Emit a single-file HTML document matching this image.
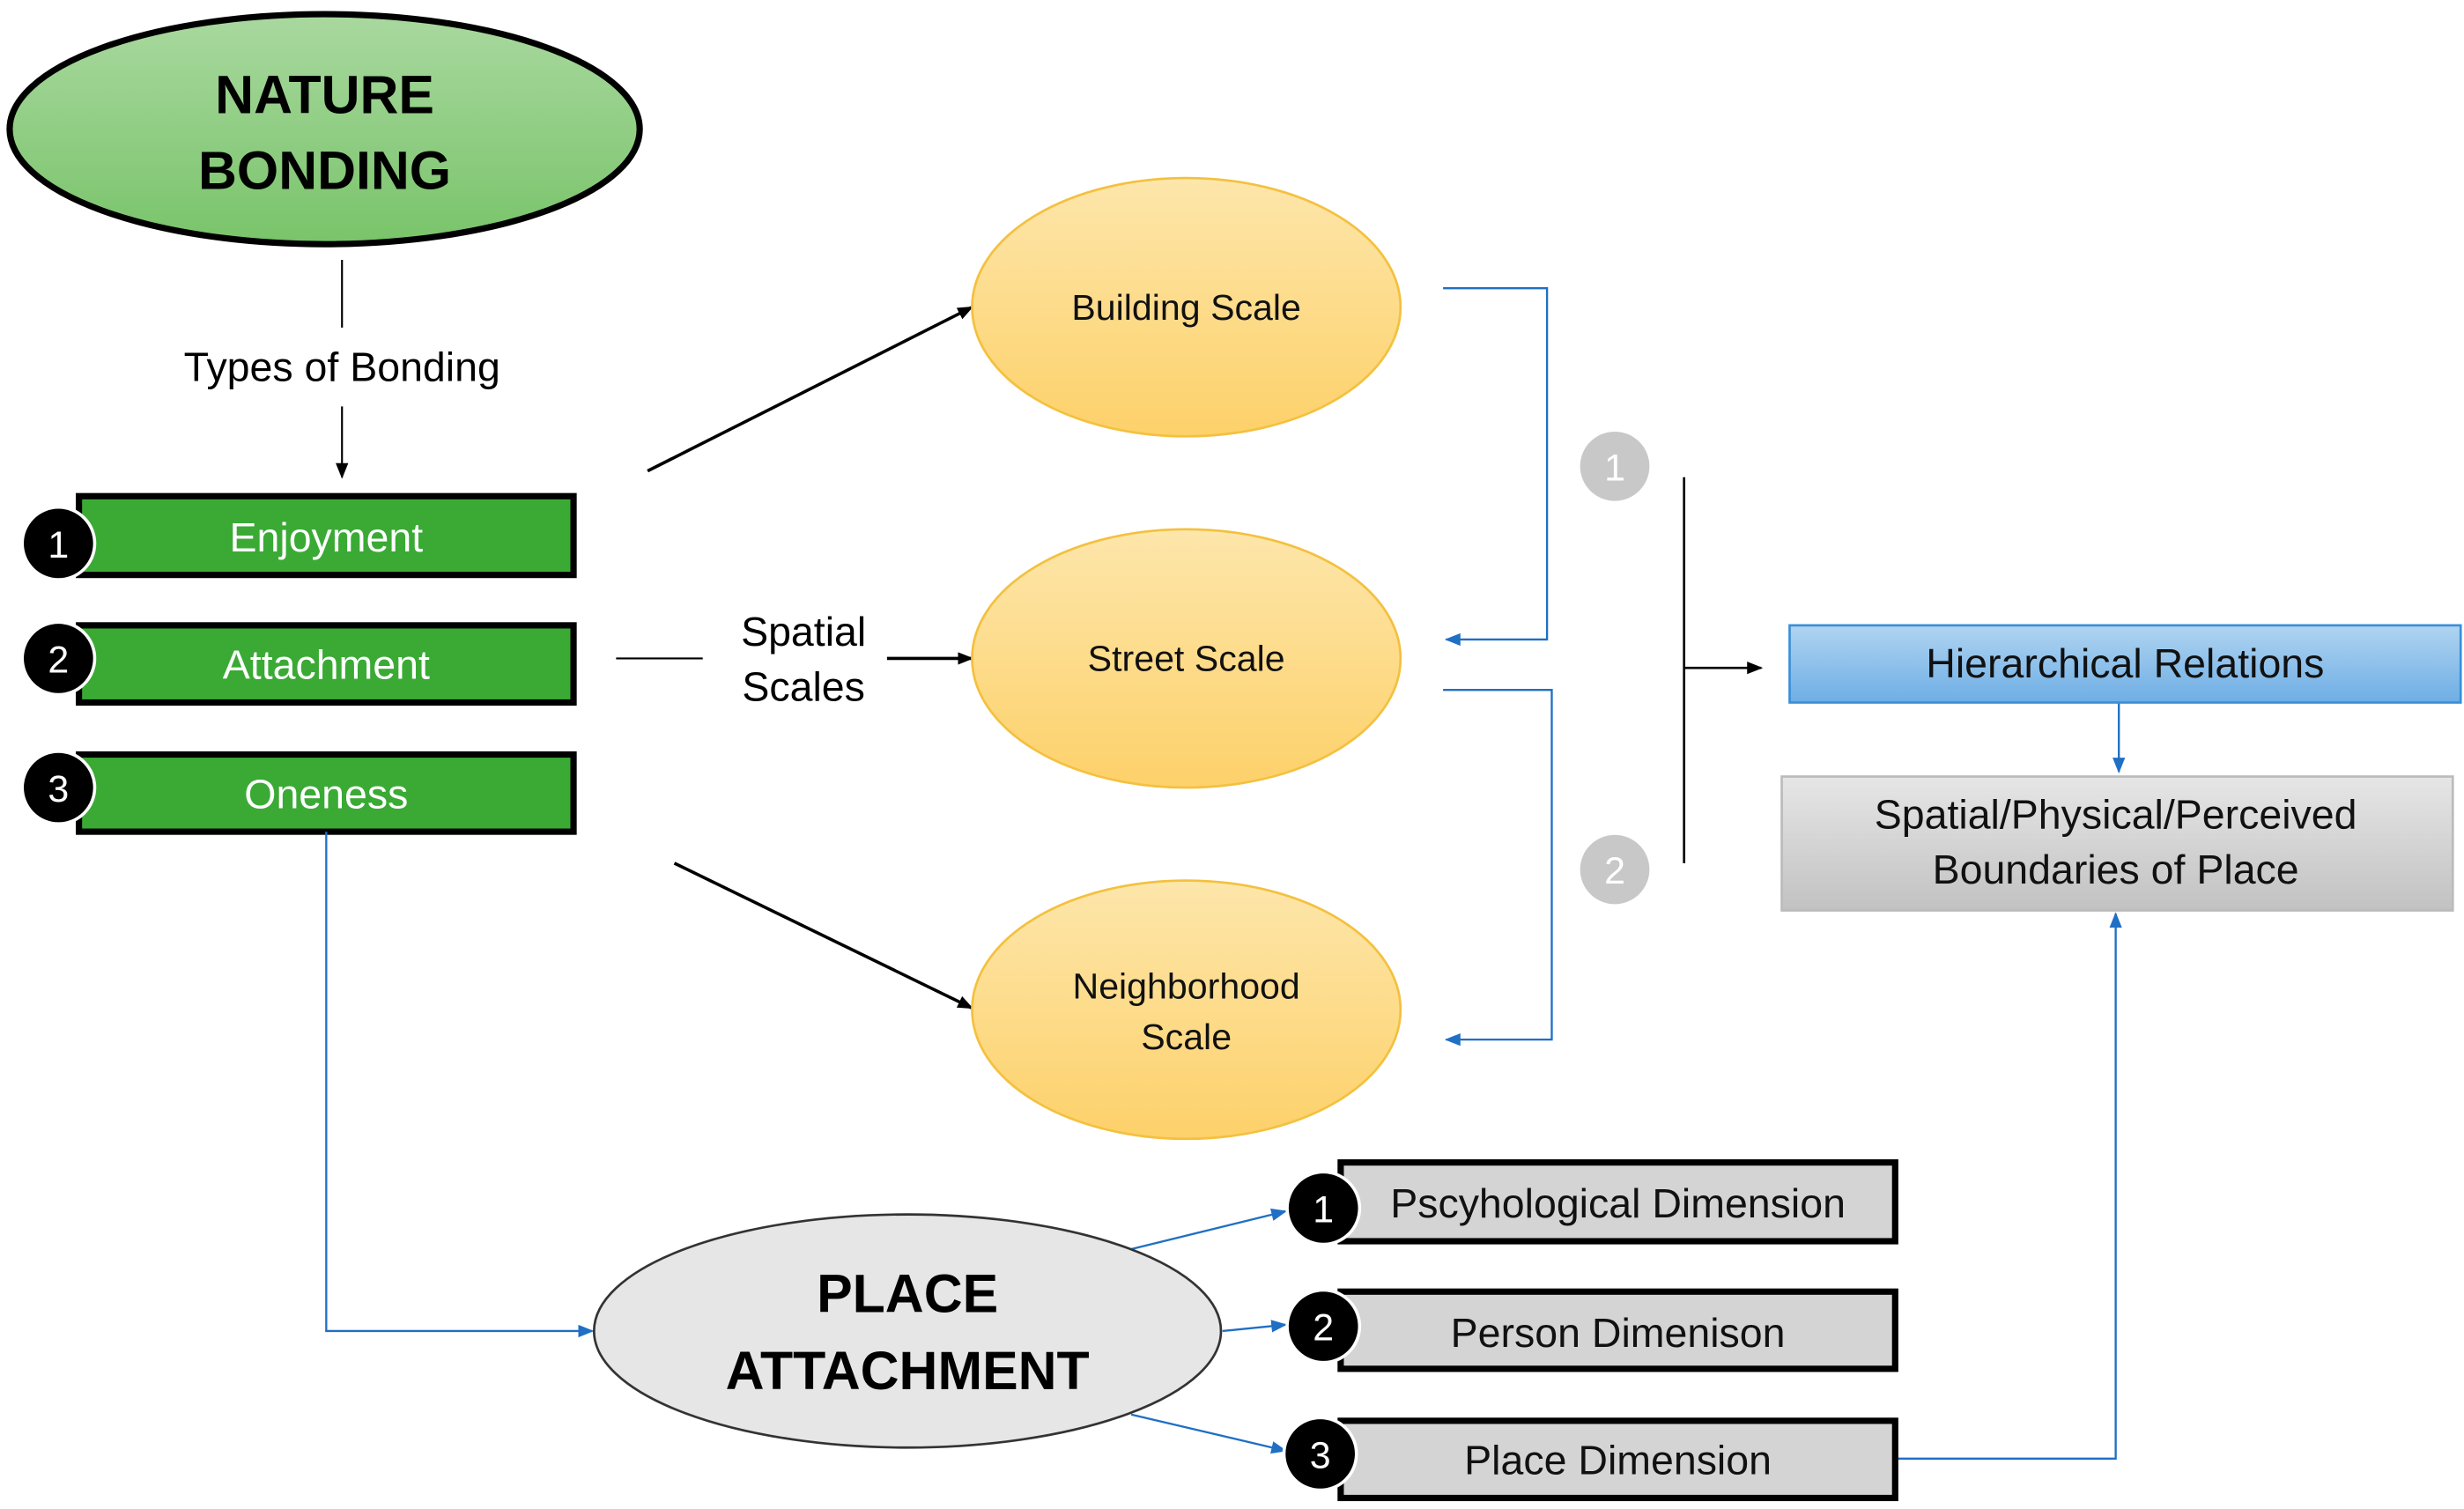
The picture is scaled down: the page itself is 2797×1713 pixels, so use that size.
<!DOCTYPE html>
<html><head><meta charset="utf-8"><style>
html,body{margin:0;padding:0;background:#fff;}
svg{display:block;}
text{font-family:"Liberation Sans",sans-serif;}
</style></head><body>
<svg width="2797" height="1713" viewBox="0 0 1564 958" xmlns="http://www.w3.org/2000/svg">
<defs>
<linearGradient id="gG" x1="0" y1="0" x2="0" y2="1"><stop offset="0" stop-color="#a9d89f"/><stop offset="1" stop-color="#79c46a"/></linearGradient>
<linearGradient id="gO" x1="0" y1="0" x2="0" y2="1"><stop offset="0" stop-color="#fde6ab"/><stop offset="1" stop-color="#fdd16a"/></linearGradient>
<linearGradient id="gB" x1="0" y1="0" x2="0" y2="1"><stop offset="0" stop-color="#b0d4f1"/><stop offset="1" stop-color="#6eaee5"/></linearGradient>
<linearGradient id="gS" x1="0" y1="0" x2="0" y2="1"><stop offset="0" stop-color="#e6e6e6"/><stop offset="1" stop-color="#c2c2c2"/></linearGradient>
<marker id="ak" markerWidth="10" markerHeight="10" refX="9" refY="5" orient="auto" markerUnits="userSpaceOnUse"><path d="M0,1 L10,5 L0,9 z" fill="#000"/></marker>
<marker id="ab" markerWidth="10" markerHeight="10" refX="9" refY="5" orient="auto" markerUnits="userSpaceOnUse"><path d="M0,1 L10,5 L0,9 z" fill="#1f6fc5"/></marker>
</defs>

<!-- Nature bonding -->
<ellipse cx="206" cy="82" rx="200" ry="73" fill="url(#gG)" stroke="#000" stroke-width="4"/>
<text x="206" y="72" font-size="34" font-weight="bold" text-anchor="middle">NATURE</text>
<text x="206" y="120" font-size="34" font-weight="bold" text-anchor="middle">BONDING</text>
<line x1="217" y1="165" x2="217" y2="208" stroke="#000" stroke-width="1.2"/>
<text x="217" y="242" font-size="26" text-anchor="middle">Types of Bonding</text>
<line x1="217" y1="258" x2="217" y2="303" stroke="#000" stroke-width="1.2" marker-end="url(#ak)"/>

<!-- green boxes -->
<g stroke="#000" stroke-width="4" fill="#3aaa35">
<rect x="50" y="315" width="314" height="50"/>
<rect x="50" y="397" width="314" height="49"/>
<rect x="50" y="479" width="314" height="49"/>
</g>
<g font-size="26" fill="#fff" text-anchor="middle">
<text x="207" y="350">Enjoyment</text>
<text x="207" y="431">Attachment</text>
<text x="207" y="513">Oneness</text>
</g>
<g fill="#000" stroke="#fff" stroke-width="2">
<circle cx="37" cy="345" r="23"/><circle cx="37" cy="418" r="23"/><circle cx="37" cy="500" r="23"/>
</g>
<g font-size="24" fill="#fff" text-anchor="middle">
<text x="37" y="354">1</text><text x="37" y="427">2</text><text x="37" y="509">3</text>
</g>

<!-- spatial arrows -->
<line x1="411" y1="299" x2="617" y2="195" stroke="#000" stroke-width="2" marker-end="url(#ak)"/>
<line x1="428" y1="548" x2="617" y2="640" stroke="#000" stroke-width="2" marker-end="url(#ak)"/>
<line x1="391" y1="418" x2="446" y2="418" stroke="#000" stroke-width="1.2"/>
<text x="510" y="410" font-size="26" text-anchor="middle">Spatial</text>
<text x="510" y="445" font-size="26" text-anchor="middle">Scales</text>
<line x1="563" y1="418" x2="617" y2="418" stroke="#000" stroke-width="2" marker-end="url(#ak)"/>

<!-- orange ellipses -->
<g fill="url(#gO)" stroke="#f4c03e" stroke-width="1.5">
<ellipse cx="753" cy="195" rx="136" ry="82"/>
<ellipse cx="753" cy="418" rx="136" ry="82"/>
<ellipse cx="753" cy="641" rx="136" ry="82"/>
</g>
<g font-size="23" text-anchor="middle" fill="#111">
<text x="753" y="203">Building Scale</text>
<text x="753" y="426">Street Scale</text>
<text x="753" y="634">Neighborhood</text>
<text x="753" y="666">Scale</text>
</g>

<!-- blue connectors -->
<g fill="none" stroke="#1f6fc5" stroke-width="1.3">
<polyline points="916,183 982,183 982,406 918,406" marker-end="url(#ab)"/>
<polyline points="916,438 985,438 985,660 918,660" marker-end="url(#ab)"/>
<line x1="1345" y1="446" x2="1345" y2="490" marker-end="url(#ab)"/>
<polyline points="207,528 207,845 376,845" marker-end="url(#ab)"/>
<line x1="718" y1="793" x2="816" y2="769" marker-end="url(#ab)"/>
<line x1="776" y1="845" x2="816" y2="841" marker-end="url(#ab)"/>
<line x1="718" y1="898" x2="816" y2="921" marker-end="url(#ab)"/>
<polyline points="1203,926 1343,926 1343,580" marker-end="url(#ab)"/>
</g>

<!-- grey circles -->
<circle cx="1025" cy="296" r="22" fill="#c8c8c8"/>
<circle cx="1025" cy="552" r="22" fill="#c8c8c8"/>
<text x="1025" y="305" font-size="24" fill="#fff" text-anchor="middle">1</text>
<text x="1025" y="561" font-size="24" fill="#fff" text-anchor="middle">2</text>

<!-- bracket -->
<line x1="1069" y1="303" x2="1069" y2="548" stroke="#000" stroke-width="1.5"/>
<line x1="1069" y1="424" x2="1118" y2="424" stroke="#000" stroke-width="1.5" marker-end="url(#ak)"/>

<rect x="1136" y="397" width="426" height="49" fill="url(#gB)" stroke="#3a8fd8" stroke-width="1.5"/>
<text x="1349" y="430" font-size="26" text-anchor="middle" fill="#111">Hierarchical Relations</text>
<rect x="1131" y="493" width="426" height="85" fill="url(#gS)" stroke="#bbb" stroke-width="1.5"/>
<text x="1343" y="526" font-size="26" text-anchor="middle" fill="#111">Spatial/Physical/Perceived</text>
<text x="1343" y="561" font-size="26" text-anchor="middle" fill="#111">Boundaries of Place</text>

<!-- place attachment -->
<ellipse cx="576" cy="845" rx="199" ry="74" fill="#e6e6e6" stroke="#333" stroke-width="1.5"/>
<text x="576" y="833" font-size="34" font-weight="bold" text-anchor="middle">PLACE</text>
<text x="576" y="882" font-size="34" font-weight="bold" text-anchor="middle">ATTACHMENT</text>

<g stroke="#000" stroke-width="4" fill="#d4d4d4">
<rect x="851" y="738" width="352" height="50"/>
<rect x="851" y="820" width="352" height="49"/>
<rect x="851" y="902" width="352" height="49"/>
</g>
<g font-size="26" text-anchor="middle" fill="#111">
<text x="1027" y="773">Pscyhological Dimension</text>
<text x="1027" y="855">Person Dimenison</text>
<text x="1027" y="936">Place Dimension</text>
</g>
<g fill="#000" stroke="#fff" stroke-width="2">
<circle cx="840" cy="767" r="23"/><circle cx="840" cy="842" r="23"/><circle cx="838" cy="923" r="23"/>
</g>
<g font-size="24" fill="#fff" text-anchor="middle">
<text x="840" y="776">1</text><text x="840" y="851">2</text><text x="838" y="932">3</text>
</g>
</svg>
</body></html>
